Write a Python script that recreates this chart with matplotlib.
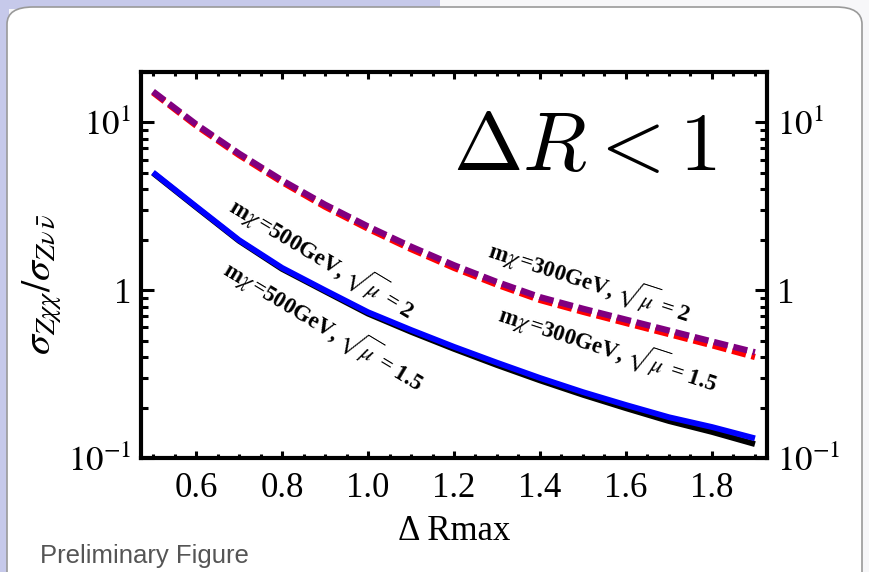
import matplotlib
matplotlib.use('Agg')
import matplotlib.pyplot as plt
from matplotlib.patches import FancyBboxPatch, Rectangle
from matplotlib.ticker import MultipleLocator, LogLocator, NullFormatter

plt.rcParams['font.family'] = ['Liberation Serif', 'DejaVu Serif']
plt.rcParams['mathtext.fontset'] = 'stix'

# data
delta_r = [0.5, 0.6, 0.7, 0.8, 0.9, 1.0, 1.1, 1.2, 1.3, 1.4, 1.5, 1.6, 1.7, 1.8, 1.9]
m500_mu2 = [5.04, 3.16, 1.99, 1.36, 1.0, 0.74, 0.58, 0.46, 0.37, 0.30, 0.247, 0.207, 0.175, 0.153, 0.131]
m500_mu15 = [5.0, 3.13, 1.97, 1.34, 0.985, 0.725, 0.565, 0.447, 0.358, 0.29, 0.238, 0.198, 0.166, 0.143, 0.121]
m300_mu2 = [15.3, 9.77, 6.53, 4.52, 3.24, 2.40, 1.82, 1.41, 1.12, 0.91, 0.776, 0.668, 0.575, 0.495, 0.427]
m300_mu15 = [15.1, 9.6, 6.4, 4.42, 3.15, 2.33, 1.76, 1.36, 1.08, 0.875, 0.744, 0.638, 0.548, 0.47, 0.40]

x_ticks = [0.6, 0.8, 1.0, 1.2, 1.4, 1.6, 1.8]
x_tick_labels = ['0.6', '0.8', '1.0', '1.2', '1.4', '1.6', '1.8']
y_ticks = [0.1, 1, 10]
y_tick_labels = [r'$10^{-1}$', '1', r'$10^{1}$']

W, H = 870, 572
fig = plt.figure(figsize=(8.7, 5.72), dpi=100)

# slide background
lav = '#c6c9ea'
fig.patches.append(Rectangle((0, 0), 1, 1, transform=fig.transFigure,
                             facecolor='#f7f7f9', edgecolor='none', zorder=-10))
fig.patches.append(Rectangle((0, 0), 9 / W, 1, transform=fig.transFigure,
                             facecolor=lav, edgecolor='none', zorder=-9))
fig.patches.append(Rectangle((0, 1 - 9 / H), 440 / W, 9 / H, transform=fig.transFigure,
                             facecolor=lav, edgecolor='none', zorder=-9))
fig.patches.append(FancyBboxPatch((7 / W, -0.05), (862 - 7) / W, 1 - 7 / H + 0.05,
                                  boxstyle='round,pad=0,rounding_size=0.03',
                                  transform=fig.transFigure, facecolor='white',
                                  edgecolor='#9a9a9a', linewidth=1.2, zorder=-8))

ax = fig.add_axes([141 / W, 114 / H, 626 / W, 386 / H])
ax.set_yscale('log')

ax.plot(delta_r, m300_mu15, color='red', lw=4.5, ls=(0, (2.3, 0.9)), dash_capstyle='butt')
ax.plot(delta_r, m300_mu2, color='#800080', lw=4.5, ls=(0, (2.3, 0.9)), dash_capstyle='butt')
ax.plot(delta_r, m500_mu15, color='black', lw=4.2, solid_capstyle='butt')
ax.plot(delta_r, m500_mu2, color='blue', lw=4.2, solid_capstyle='butt')

ax.set_xlim(0.472, 1.928)
ax.set_ylim(0.1, 20)
ax.set_xticks(x_ticks, labels=x_tick_labels)
ax.xaxis.set_minor_locator(MultipleLocator(0.05))
ax.set_yticks(y_ticks, labels=y_tick_labels)
ax.yaxis.set_minor_locator(LogLocator(base=10, subs=range(2, 10)))
ax.yaxis.set_minor_formatter(NullFormatter())

for s in ax.spines.values():
    s.set_linewidth(3)
ax.tick_params(axis='both', which='both', direction='in', top=True, right=True,
               labelright=True, width=2.2, labelsize=25)
ax.tick_params(axis='x', which='major', length=5, pad=10)
ax.tick_params(axis='x', which='minor', length=3)
ax.tick_params(axis='y', which='major', length=9, pad=7)
ax.tick_params(axis='y', which='minor', length=5)

ax.set_xlabel('Δ Rmax', fontsize=25, labelpad=7)
ax.set_ylabel(r'$\sigma_{Z\chi\chi}/\sigma_{Z\nu\,\bar{\nu}}$', fontsize=29)
ax.yaxis.set_label_coords(-0.123, 0.45)

fig.text(585 / W, 1 - 150 / H, r'$\Delta R < 1$', fontsize=60,
         math_fontfamily='cm', ha='center', va='center')

ann = dict(fontsize=16.5, fontweight='bold', ha='center', va='center',
           rotation_mode='anchor')
fig.text(322 / W, 1 - 258 / H, r'm$\chi\,$=500GeV, $\sqrt{\mu}$ = 2', rotation=-31, **ann)
fig.text(324 / W, 1 - 325 / H, r'm$\chi\,$=500GeV, $\sqrt{\mu}$ = 1.5', rotation=-31, **ann)
fig.text(590 / W, 1 - 281 / H, r'm$\chi\,$=300GeV, $\sqrt{\mu}$ = 2', rotation=-18, **ann)
fig.text(608 / W, 1 - 348 / H, r'm$\chi\,$=300GeV, $\sqrt{\mu}$ = 1.5', rotation=-18, **ann)

fig.text(40 / W, 1 - 556 / H, 'Preliminary Figure', fontsize=18.5, color='#555555',
         family='Liberation Sans', ha='left', va='center')

fig.savefig('out.png', dpi=100)
